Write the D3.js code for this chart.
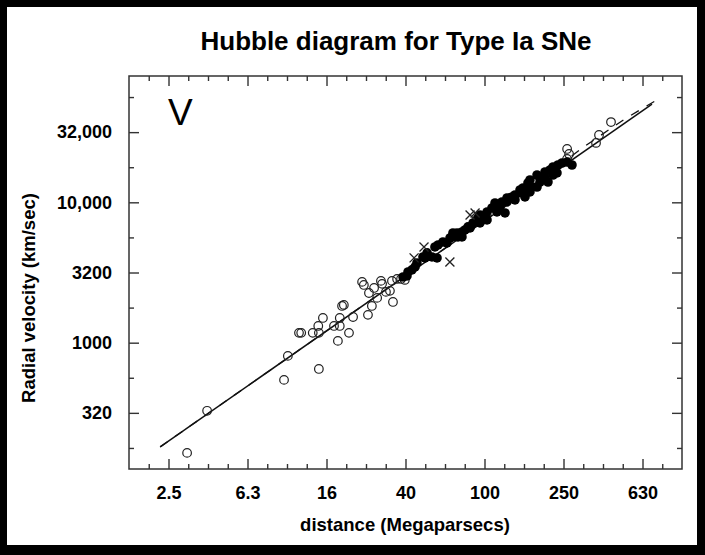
<!DOCTYPE html>
<html>
<head>
<meta charset="utf-8">
<script src="https://cdn.jsdelivr.net/npm/d3@7"></script>
<style>
	body { margin: 0; background: #fff; }
	text { font-family: "Liberation Sans", Arial, Helvetica, sans-serif; }
</style>
</head>
<body>
<svg id="chart" width="705" height="555"></svg>
<script>
// open circles: nearby SNe (distance Mpc, velocity km/s)
var openDist = [3.12, 3.94, 9.66, 10.1, 11.5, 11.8, 13.5, 14.5, 14.4, 14.5, 15.2, 17.3, 18.1, 18.5,
	18.5, 19.0, 19.4, 20.6, 21.6, 24.0, 24.5, 25.7, 26.0, 26.9, 27.6, 28.6, 29.9, 30.3, 31.7,
	33.2, 34.0, 34.4, 36.1, 37.8, 39.5, 262, 268, 262, 367, 380, 437];
var openVel = [164, 327, 543, 805, 1175, 1175, 1175, 1175, 1316, 650, 1500, 1316, 1030, 1316,
	1500, 1827, 1858, 1175, 1524, 2710, 2578, 1578, 2260, 1827, 2455, 2085, 2755, 2624, 2300,
	2340, 2755, 1950, 2845, 2845, 2800, 24000, 22100, 20400, 26500, 30200, 37300];

// filled circles
var filledDist = [38.7, 40.5, 41.0, 42.9, 44.5, 45.5, 48.8, 50.0, 51.2, 54.2, 57.5, 56.1, 58.2,
	61.6, 64.6, 66.9, 68.5, 69.2, 72.6, 73.4, 76.9, 76.9, 79.6, 82.5, 84.5, 87.5, 91.6, 92.7,
	94.9, 94.9, 98.2, 100.6, 103.0, 103.0, 109.1, 113.0, 115.6, 117.0, 119.8, 122.6, 127.0,
	130.0, 130.0, 134.6, 137.8, 142.7, 142.7, 151.3, 154.8, 156.7, 160.3, 160.3, 166.0, 169.9,
	169.9, 174.0, 184.5, 184.5, 191.0, 191.0, 202.4, 202.4, 209.6, 214.6, 222.3, 222.3, 232.8,
	235.5, 246.8, 261.8, 277.3];
var filledVel = [2940, 2990, 3190, 3300, 3465, 3700, 4080, 4015, 4360, 4080, 4015, 4810, 4970,
	5220, 5135, 5575, 5665, 6050, 6050, 5665, 6150, 5665, 6355, 6680, 6570, 7130, 7485, 7740,
	7130, 8130, 7740, 7870, 7485, 8535, 9120, 9890, 8535, 9580, 9270, 10060, 8400,
	10060, 10740, 10740, 10920, 10400, 11280, 12250, 11660, 12660, 12250, 10920, 13740, 14430,
	11850, 12860, 12860, 15660, 13960, 14910, 14910, 16450, 13960, 17000, 15660, 17850, 16190,
	18450, 19060, 19370, 18450];

// crosses
var crossDist = [44.0, 49.4, 66.8, 84.5, 89.6];
var crossVel = [4020, 4810, 3760, 8130, 8400];

// solid fit and dashed model
var fitDist = [2.28, 705];
var fitVel = [181, 50100];
var modelDist = [2.28, 94.9, 323, 514, 730];
var modelVel = [181, 7020, 25200, 39300, 52700];

// axis ticks
var xMajor = [2.512, 6.31, 15.85, 39.81, 100, 251.2, 631];
var xLabels = ["2.5", "6.3", "16", "40", "100", "250", "630"];
var xMinor = [1.995, 3.162, 3.981, 5.012, 7.943, 10, 12.59, 19.95, 25.12, 31.62, 50.12, 63.1,
	79.43, 125.9, 158.5, 199.5, 316.2, 398.1, 501.2, 794.3];
var yMajor = [316.2, 1000, 3162, 10000, 31623];
var yLabels = ["320", "1000", "3200", "10,000", "32,000"];
var yMinor = [177.8, 562.3, 1778, 5623, 17783, 56234];

function draw() {
	var svg = d3.select("#chart");

	svg.append("rect")
		.attr("width", 705)
		.attr("height", 555)
		.attr("fill", "#000");
	svg.append("rect")
		.attr("x", 7)
		.attr("y", 7)
		.attr("width", 690)
		.attr("height", 538)
		.attr("fill", "#fff");

	var pL = 129, pR = 682, pT = 76, pB = 469;

	var x = d3.scaleLog()
		.domain([Math.pow(10, 0.2), 1000])
		.range([pL, pR]);
	var y = d3.scaleLog()
		.domain([Math.pow(10, 2.1), Math.pow(10, 4.9)])
		.range([pB, pT]);

	svg.append("text")
		.attr("x", 396)
		.attr("y", 50)
		.attr("text-anchor", "middle")
		.attr("font-size", 26)
		.attr("font-weight", "bold")
		.text("Hubble diagram for Type Ia SNe");

	function styleAxis(g) {
		g.select(".domain").remove();
		g.selectAll("line").attr("stroke", "#333").attr("stroke-width", 1.4);
		g.selectAll("text")
			.attr("font-size", 18)
			.attr("font-weight", "bold")
			.attr("fill", "#000")
			.style("font-family", "'Liberation Sans', Arial, sans-serif");
	}

	// bottom
	svg.append("g")
		.attr("transform", "translate(0," + pB + ")")
		.call(d3.axisBottom(x).tickValues(xMajor).tickSize(-10).tickPadding(17)
			.tickFormat(function(d, i) { return xLabels[i]; }))
		.call(styleAxis);
	svg.append("g")
		.attr("transform", "translate(0," + pB + ")")
		.call(d3.axisBottom(x).tickValues(xMinor).tickSize(-5).tickFormat(""))
		.call(styleAxis);
	// top
	svg.append("g")
		.attr("transform", "translate(0," + pT + ")")
		.call(d3.axisTop(x).tickValues(xMajor).tickSize(-10).tickFormat(""))
		.call(styleAxis);
	svg.append("g")
		.attr("transform", "translate(0," + pT + ")")
		.call(d3.axisTop(x).tickValues(xMinor).tickSize(-5).tickFormat(""))
		.call(styleAxis);
	// left
	svg.append("g")
		.attr("transform", "translate(" + pL + ",0)")
		.call(d3.axisLeft(y).tickValues(yMajor).tickSize(-10).tickPadding(17)
			.tickFormat(function(d, i) { return yLabels[i]; }))
		.call(styleAxis);
	svg.append("g")
		.attr("transform", "translate(" + pL + ",0)")
		.call(d3.axisLeft(y).tickValues(yMinor).tickSize(-5).tickFormat(""))
		.call(styleAxis);
	// right
	svg.append("g")
		.attr("transform", "translate(" + pR + ",0)")
		.call(d3.axisRight(y).tickValues(yMajor).tickSize(-10).tickFormat(""))
		.call(styleAxis);
	svg.append("g")
		.attr("transform", "translate(" + pR + ",0)")
		.call(d3.axisRight(y).tickValues(yMinor).tickSize(-5).tickFormat(""))
		.call(styleAxis);

	svg.append("rect")
		.attr("x", pL)
		.attr("y", pT)
		.attr("width", pR - pL)
		.attr("height", pB - pT)
		.attr("fill", "none")
		.attr("stroke", "#333")
		.attr("stroke-width", 1.5);

	svg.append("text")
		.attr("x", 405)
		.attr("y", 531)
		.attr("text-anchor", "middle")
		.attr("font-size", 18.5)
		.attr("font-weight", "bold")
		.text("distance (Megaparsecs)");

	svg.append("text")
		.attr("transform", "translate(35,298) rotate(-90)")
		.attr("text-anchor", "middle")
		.attr("font-size", 18.5)
		.attr("font-weight", "bold")
		.text("Radial velocity (km/sec)");

	svg.append("text")
		.attr("x", 168)
		.attr("y", 125)
		.attr("font-size", 37)
		.text("V");

	var line = d3.line()
		.x(function(d) { return x(d[0]); })
		.y(function(d) { return y(d[1]); });

	svg.append("path")
		.datum(d3.zip(modelDist, modelVel))
		.attr("d", line)
		.attr("fill", "none")
		.attr("stroke", "#111")
		.attr("stroke-width", 1.3)
		.attr("stroke-dasharray", "9,9");
	svg.append("path")
		.datum(d3.zip(fitDist, fitVel))
		.attr("d", line)
		.attr("fill", "none")
		.attr("stroke", "#111")
		.attr("stroke-width", 1.5);

	svg.append("g")
		.selectAll("circle")
		.data(d3.zip(openDist, openVel))
		.enter().append("circle")
		.attr("cx", function(d) { return x(d[0]); })
		.attr("cy", function(d) { return y(d[1]); })
		.attr("r", 4.3)
		.attr("fill", "none")
		.attr("stroke", "#222")
		.attr("stroke-width", 1.2);

	svg.append("g")
		.selectAll("circle")
		.data(d3.zip(filledDist, filledVel))
		.enter().append("circle")
		.attr("cx", function(d) { return x(d[0]); })
		.attr("cy", function(d) { return y(d[1]); })
		.attr("r", 4.8)
		.attr("fill", "#000");

	svg.append("g")
		.selectAll("path")
		.data(d3.zip(crossDist, crossVel))
		.enter().append("path")
		.attr("transform", function(d) { return "translate(" + x(d[0]) + "," + y(d[1]) + ")"; })
		.attr("d", "M-4.5,-4.5L4.5,4.5M-4.5,4.5L4.5,-4.5")
		.attr("stroke", "#222")
		.attr("stroke-width", 1.3);
}

draw();
</script>
</body>
</html>
